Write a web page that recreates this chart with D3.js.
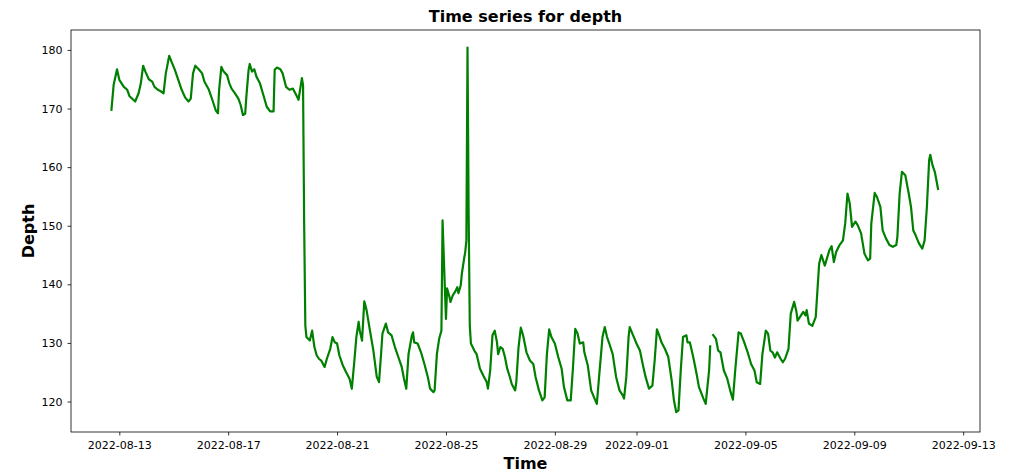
<!DOCTYPE html>
<html>
<head>
<meta charset="utf-8">
<script src="https://cdn.jsdelivr.net/npm/d3@7"></script>
<style>
  html, body { margin: 0; padding: 0; background: #fff; }
  svg { display: block; }
  text { font-family: "DejaVu Sans", sans-serif; }
</style>
</head>
<body>
<svg id="chart" width="1015" height="472"></svg>
<script>
// ---- data ----
const startTime = "2022-08-13T00:00:00";   // hours below are counted from this instant
const hours = [
  -7,-5,-2,0,2,4,7,9,14,17,
  19,21,23,26,29,31,34,37,39,41,
  44,46,49,52,55,58,61,63,65,67,
  70,73,75,79,82,85,87,88,90,92,
  95,97,99,102,105,107,109,111,112,114,
  115,117,119,121,124,127,130,133,136,137,
  139,142,144,147,150,153,156,158,161,162,
  163,164,165,168,170,172,174,176,178,181,
  183,186,188,190,192,194,197,200,203,205,
  207,209,211,212,214,216,218,221,224,227,
  229,231,232,235,237,240,243,246,249,251,
  253,255,258,259,260,263,266,269,272,274,
  277,278,280,282,284,285,287,288,289,291,
  292,294,296,298,299,301,302,304,305,306,
  307,308,309,310,313,315,318,321,324,325,
  327,329,331,333,334,336,338,340,342,344,
  346,349,350,352,354,356,359,362,365,367,
  370,373,375,377,379,381,384,387,390,392,
  395,398,400,402,404,406,409,410,413,416,
  419,421,423,426,428,430,432,435,438,441,
  444,445,447,449,450,453,456,459,462,464,
  467,470,472,474,476,478,481,484,487,489,
  491,493,495,497,500,501,503,506,509,511,
  515,517,520,521,522,523,526,528,530,533,
  536,539,541,543,546,548,551,554,557,560,
  562,565,567,570,572,574,576,578,580,583,
  585,587,590,592,595,597,598,601,603,605,
  606,608,611,614,617,619,622,626,628,630,
  632,635,638,640,642,644,646,649,651,654,
  657,660,662,663,666,668,671,673,676,679,
  682,685,686,688,690,693,696,698,700,702,
  705,708,710,712,714,715,717,719,722
];
const depth = [
  169.6,174.0,176.7,174.9,174.3,173.7,173.2,172.1,171.2,172.6,
  174.3,177.3,176.3,175.0,174.6,173.7,173.2,172.9,172.6,176.0,
  179.0,178.0,176.6,174.9,173.2,171.9,171.2,171.7,176.0,177.3,
  176.7,176.0,174.6,173.2,171.5,169.7,169.2,173.2,177.1,176.3,
  175.7,174.3,173.4,172.6,171.7,170.6,168.9,169.1,172.0,176.6,
  177.6,176.3,176.7,175.4,174.3,172.3,170.3,169.5,169.5,176.6,
  177.0,176.7,176.0,173.7,173.2,173.4,172.3,171.5,175.2,174.0,
  150.0,133.0,131.0,130.4,132.1,129.3,127.9,127.3,127.0,125.9,
  127.3,129.0,131.0,130.1,129.9,127.9,126.2,125.0,123.9,122.2,
  126.4,131.0,133.6,132.1,130.4,137.1,135.6,132.1,128.7,124.2,
  123.3,128.7,131.6,133.3,131.8,131.3,129.3,127.6,125.9,123.9,
  122.2,128.1,131.3,131.8,130.1,129.9,128.4,126.4,124.2,122.2,
  121.6,121.9,128.1,130.7,132.1,150.9,139.5,134.1,139.3,137.9,
  137.0,138.1,138.7,139.5,138.5,139.8,141.8,144.4,145.5,147.5,
  180.4,152.0,133.0,129.9,128.7,128.1,125.6,124.4,123.3,122.2,
  125.3,131.3,132.1,130.1,128.1,129.3,129.0,127.6,125.6,124.4,
  123.0,121.9,123.3,129.3,132.6,131.3,128.4,127.0,126.4,124.2,
  121.9,120.2,120.7,128.1,132.3,131.0,129.9,127.6,125.6,122.5,
  120.2,120.2,125.9,132.4,131.6,129.9,130.1,128.4,126.2,121.9,
  120.5,119.6,124.2,131.0,132.7,131.0,129.9,128.1,124.2,121.9,
  121.0,120.5,124.2,131.0,132.7,131.3,129.9,128.7,125.9,124.2,
  122.2,122.7,127.0,132.3,131.3,130.1,129.0,127.6,123.6,120.2,
  118.2,118.5,125.3,131.0,131.3,130.1,130.1,127.6,124.7,122.5,
  120.5,119.6,125.3,129.6,null,131.5,130.7,128.7,128.4,125.3,
  123.9,121.6,120.3,125.3,131.8,131.6,130.1,128.4,126.4,125.3,
  123.3,123.0,128.1,132.1,131.6,128.7,128.4,127.5,128.4,127.3,
  126.7,127.3,129.0,135.0,137.0,135.3,133.8,134.7,135.3,134.7,
  135.6,133.3,132.9,134.4,143.5,145.0,143.2,145.8,146.5,143.8,
  145.5,146.7,147.5,150.4,155.5,153.8,149.8,150.7,150.1,148.7,
  145.2,144.1,144.4,150.4,155.6,154.9,153.2,149.2,147.8,146.7,
  146.4,146.7,148.1,155.5,159.2,158.6,155.5,153.2,149.2,148.4,
  147.0,146.1,147.5,153.2,161.2,162.1,160.3,159.2,156.1
];
const xTickLabels = ["2022-08-13","2022-08-17","2022-08-21","2022-08-25","2022-08-29",
                     "2022-09-01","2022-09-05","2022-09-09","2022-09-13"];
const yTickValues = [120, 130, 140, 150, 160, 170, 180];
const xDomain = ["2022-08-11T05:25:00", "2022-09-13T14:50:00"];
const yDomain = [114.8, 183.4];
const titleText = "Time series for depth";
const xLabelText = "Time";
const yLabelText = "Depth";

// ---- layout ----
const W = 1015, H = 472;
const margin = { left: 71, top: 30, right: 35, bottom: 40 };
const innerW = W - margin.left - margin.right;  // 909
const innerH = H - margin.top - margin.bottom;  // 402

const parse = d3.isoParse;
const t0 = parse(startTime).getTime();
const data = hours.map((h, i) => ({ t: new Date(t0 + h * 3600e3), v: depth[i] }));

const x = d3.scaleTime().domain(xDomain.map(parse)).range([0, innerW]);
const y = d3.scaleLinear().domain(yDomain).range([innerH, 0]);

const svg = d3.select("#chart");
const g = svg.append("g").attr("transform", `translate(${margin.left},${margin.top})`);

const line = d3.line()
  .defined(d => d.v !== null)
  .x(d => x(d.t))
  .y(d => y(d.v));

g.append("path")
  .datum(data)
  .attr("fill", "none")
  .attr("stroke", "#008000")
  .attr("stroke-width", 2.2)
  .attr("stroke-linejoin", "round")
  .attr("stroke-linecap", "butt")
  .attr("d", line);

// axes
const xAxis = d3.axisBottom(x)
  .tickValues(xTickLabels.map(s => parse(s)))
  .tickFormat(d3.timeFormat("%Y-%m-%d"))
  .tickSizeInner(3.5).tickSizeOuter(0).tickPadding(6);
const yAxis = d3.axisLeft(y)
  .tickValues(yTickValues)
  .tickFormat(d3.format("d"))
  .tickSizeInner(3.5).tickSizeOuter(0).tickPadding(5);

const gx = g.append("g").attr("transform", `translate(0,${innerH})`).call(xAxis);
const gy = g.append("g").call(yAxis);
[gx, gy].forEach(a => {
  a.select(".domain").remove();
  a.selectAll(".tick line").attr("stroke", "#000").attr("stroke-width", 0.8);
  a.selectAll(".tick text").attr("fill", "#000").style("font-size", "11px")
    .style("font-family", "'DejaVu Sans', sans-serif");
});

// frame
g.append("rect")
  .attr("x", 0).attr("y", 0).attr("width", innerW).attr("height", innerH)
  .attr("fill", "none").attr("stroke", "#000").attr("stroke-width", 0.8);

// title & labels
svg.append("text")
  .attr("x", margin.left + innerW / 2).attr("y", 22)
  .attr("text-anchor", "middle")
  .style("font-size", "16px").style("font-weight", "bold")
  .text(titleText);

svg.append("text")
  .attr("x", margin.left + innerW / 2).attr("y", 469)
  .attr("text-anchor", "middle")
  .style("font-size", "16px").style("font-weight", "bold")
  .text(xLabelText);

svg.append("text")
  .attr("transform", `translate(34,${margin.top + innerH / 2}) rotate(-90)`)
  .attr("text-anchor", "middle")
  .style("font-size", "16px").style("font-weight", "bold")
  .text(yLabelText);
</script>
</body>
</html>
